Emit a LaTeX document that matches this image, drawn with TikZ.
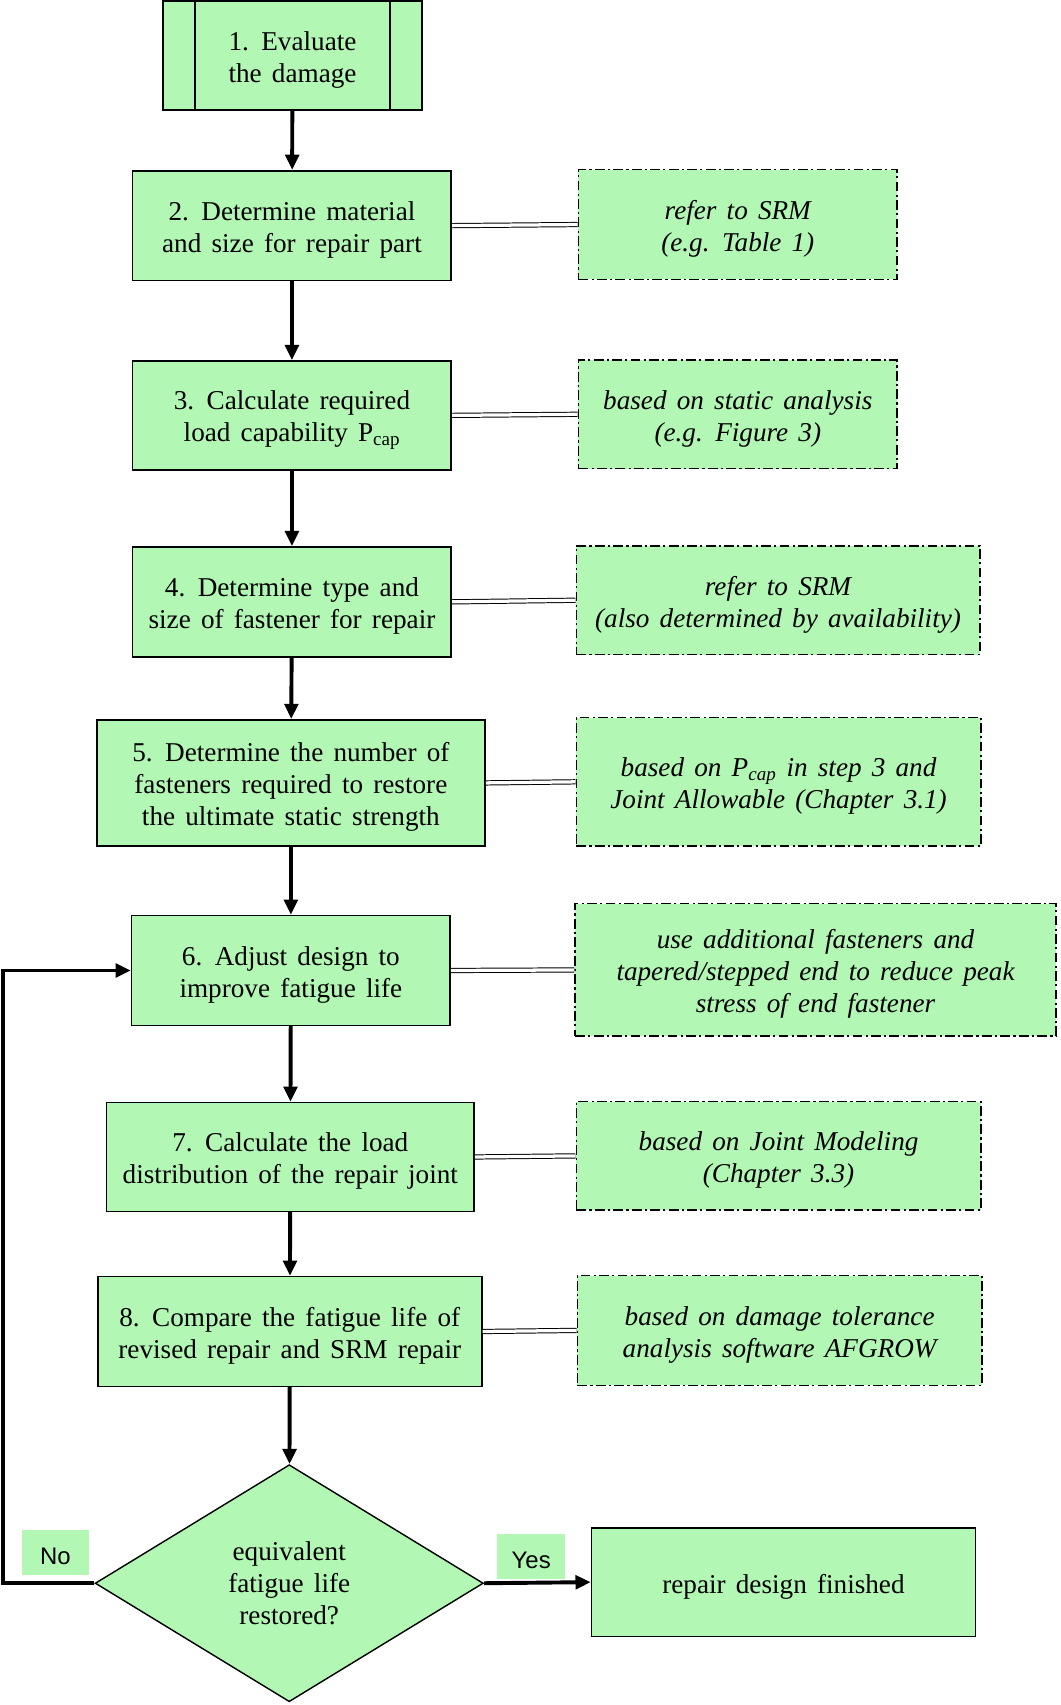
\documentclass[tikz,border=0pt]{standalone}
\usepackage{fontspec}
\setmainfont{Liberation Serif}[WordSpace=1.5]
\newfontfamily\labelfont{Liberation Sans}
\usetikzlibrary{arrows.meta,shapes.geometric}
\definecolor{boxgreen}{RGB}{178,247,180}
\newcommand\upstrut{\rule{0pt}{25.5pt}}
\tikzset{
  base/.style={fill=boxgreen, inner sep=0pt, align=center, font=\fontsize{25}{29.5}\selectfont},
  stepbox/.style={base, draw=black, line width=1.5pt},
  decision/.style={base, draw=black, line width=1.3pt, diamond},
  sidebox/.style={base, draw=black, line width=1.5pt, dash pattern=on 9pt off 3pt on 2pt off 3pt, font=\fontsize{25}{29.5}\selectfont\itshape},
  flow/.style={line width=3.6pt, -{Triangle[length=14pt,width=12.5pt]}},
  link/.style={double, double distance=3pt, line width=0.9pt},
  tag/.style={fill=boxgreen, inner sep=0pt, font=\labelfont\fontsize{22}{24}\selectfont}
}
\begin{document}
\begin{tikzpicture}[x=1pt,y=-1pt]
\useasboundingbox (0,0) rectangle (975,1568);
% main steps
\node[stepbox, minimum width=238pt, minimum height=100pt] (b1) at (269,51) {\upstrut 1. Evaluate\\the damage};
\draw[line width=1.5pt] ([xshift=30pt]b1.north west) -- ([xshift=30pt]b1.south west);
\draw[line width=1.5pt] ([xshift=-30pt]b1.north east) -- ([xshift=-30pt]b1.south east);
\node[stepbox, minimum width=293pt, minimum height=101pt] (b2) at (268.5,207.5) {\upstrut 2. Determine material\\and size for repair part};
\node[stepbox, minimum width=293pt, minimum height=100pt] (b3) at (268.5,382) {\upstrut 3. Calculate required\\load capability P\textsubscript{cap}};
\node[stepbox, minimum width=293pt, minimum height=101pt] (b4) at (268.5,553.5) {\upstrut 4. Determine type and\\size of fastener for repair};
\node[stepbox, minimum width=357pt, minimum height=116pt] (b5) at (267.5,720) {\upstrut 5. Determine the number of\\fasteners required to restore\\the ultimate static strength};
\node[stepbox, minimum width=293pt, minimum height=101pt] (b6) at (267.5,892.5) {\upstrut 6. Adjust design to\\improve fatigue life};
\node[stepbox, minimum width=338pt, minimum height=100pt] (b7) at (267,1064) {\upstrut 7. Calculate the load\\distribution of the repair joint};
\node[stepbox, minimum width=353pt, minimum height=101pt] (b8) at (266.5,1224.5) {\upstrut 8. Compare the fatigue life of\\revised repair and SRM repair};
\node[decision, aspect=1.638, minimum width=357pt, minimum height=218pt] (d) at (266,1456) {equivalent\\fatigue life\\restored?};
\node[stepbox, minimum width=353pt, minimum height=100pt] (fin) at (720.5,1455) {\upstrut repair design finished};
% side notes
\node[sidebox, minimum width=293pt, minimum height=101pt] (s2) at (678.5,206.5) {\upstrut refer to SRM\\(e.g. Table 1)};
\node[sidebox, minimum width=293pt, minimum height=100pt] (s3) at (678.5,381) {\upstrut based on static analysis\\(e.g. Figure 3)};
\node[sidebox, minimum width=371pt, minimum height=100pt] (s4) at (715.5,552) {\upstrut refer to SRM\\(also determined by availability)};
\node[sidebox, minimum width=372pt, minimum height=118pt] (s5) at (716,719) {\upstrut based on P\textsubscript{cap} in step 3 and\\Joint Allowable (Chapter 3.1)};
\node[sidebox, minimum width=442pt, minimum height=122pt] (s6) at (750,892) {\upstrut use additional fasteners and\\tapered/stepped end to reduce peak\\stress of end fastener};
\node[sidebox, minimum width=372pt, minimum height=100pt] (s7) at (716,1063) {\upstrut based on Joint Modeling\\(Chapter 3.3)};
\node[sidebox, minimum width=372pt, minimum height=101pt] (s8) at (717,1223.5) {\upstrut based on damage tolerance\\analysis software AFGROW};
% labels
\node[tag, minimum width=62pt, minimum height=41pt] (no) at (51,1427.5) {\rule{0pt}{22pt}No};
\node[tag, minimum width=63pt, minimum height=41pt] (yes) at (488.5,1431.5) {\rule{0pt}{22pt}Yes};
% flow arrows
\draw[flow] (b1) -- (b2);
\draw[flow] (b2) -- (b3);
\draw[flow] (b3) -- (b4);
\draw[flow] (b4) -- (b5);
\draw[flow] (b5) -- (b6);
\draw[flow] (b6) -- (b7);
\draw[flow] (b7) -- (b8);
\draw[flow] (b8) -- (d);
\draw[flow] (d.east) -- (fin.west);
\coordinate (c1) at (3,1456);
\coordinate (c2) at (3,892.5);
\draw[flow] (d.west) -- (c1) -- (c2) -- (b6.west);
% links
\draw[link] (b2.east) -- (s2.west);
\draw[link] (b3.east) -- (s3.west);
\draw[link] (b4.east) -- (s4.west);
\draw[link] (b5.east) -- (s5.west);
\draw[link] (b6.east) -- (s6.west);
\draw[link] (b7.east) -- (s7.west);
\draw[link] (b8.east) -- (s8.west);
\end{tikzpicture}
\end{document}
